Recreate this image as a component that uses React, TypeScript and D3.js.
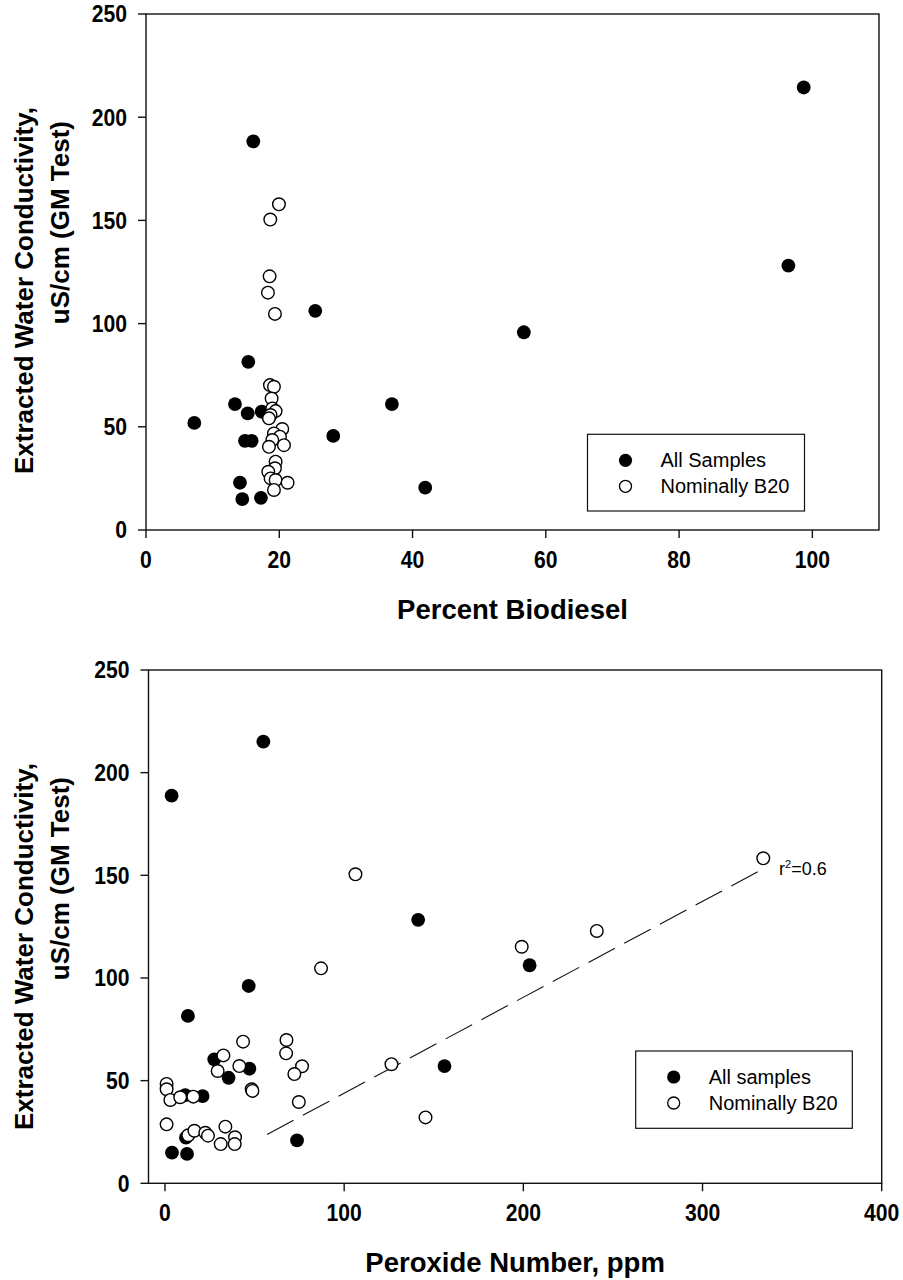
import React from "react";
import * as d3 from "d3";

// ---- Conductivity vs. percent biodiesel ----
const bioAllSamples: [number, number][] = [
  [7.25, 51.9], [13.35, 61], [14.1, 22.9], [14.45, 15], [14.85, 43.2],
  [15.26, 56.5], [15.35, 81.5], [15.86, 43.2], [16.1, 188.3], [17.25, 15.6],
  [17.36, 57.3], [25.4, 106.2], [28.1, 45.6], [36.9, 61], [41.9, 20.5],
  [56.7, 95.8], [96.4, 128.1], [98.7, 214.4],
];
const bioNominalB20: [number, number][] = [
  [19.95, 157.8], [18.65, 150.4], [18.55, 122.9], [18.3, 115], [19.35, 104.7],
  [18.6, 70.2], [19.2, 69.4], [18.85, 63.7], [18.95, 58.9], [19.45, 57.6],
  [18.7, 55.7], [18.45, 54.1], [20.45, 48.9], [19.2, 46.8], [20.1, 45.2],
  [18.95, 43.6], [20.7, 41.1], [18.45, 40.3], [19.45, 33.1], [19.35, 29.9],
  [18.35, 28.2], [18.7, 25], [19.45, 24.2], [21.25, 22.9], [19.2, 19.4],
];

// ---- Conductivity vs. peroxide number ----
const peroxAllSamples: [number, number][] = [
  [3.7, 188.8], [54.9, 215.1], [141.3, 128.3], [203.5, 106.2], [156, 57.1],
  [46.7, 96.1], [12.8, 81.5], [27.5, 60.4], [35.5, 51.4], [47.1, 55.8],
  [11.3, 42.9], [21, 42.5], [11.7, 22.2], [3.9, 14.9], [12.3, 14.3],
  [73.7, 20.9],
];
const peroxNominalB20: [number, number][] = [
  [0.9, 48.4], [0.9, 45.8], [3, 40.6], [8.5, 41.9], [15.8, 42.2],
  [43.6, 69], [32.6, 62.3], [29.4, 54.7], [41.5, 57.1], [48.4, 45.8],
  [48.8, 45], [67.8, 69.8], [67.6, 63.3], [76.5, 57], [72.2, 53.2],
  [74.7, 39.6], [0.9, 28.7], [13, 23.4], [16.4, 25.6], [22.5, 24.6],
  [24, 23.2], [33.7, 27.6], [31.1, 19.1], [39.1, 22.4], [38.9, 19.1],
  [106.3, 150.5], [199.1, 115.2], [241, 122.9], [333.9, 158.3], [126.4, 58],
  [145.4, 32.1], [87.1, 104.7],
];
// linear fit through the B20 samples (r^2 = 0.6)
const peroxFit: [number, number][] = [[57, 23.8], [334, 153.2]];

const yTicks = [0, 50, 100, 150, 200, 250];
const bioTicks = [0, 20, 40, 60, 80, 100];
const peroxTicks = [0, 100, 200, 300, 400];

const FONT = "'Liberation Sans', Arial, Helvetica, sans-serif";
const INK = "#111";

type PanelProps = {
  x0: number; x1: number; y0: number; y1: number;
  xDomain: [number, number]; xTicks: number[];
  filled: [number, number][]; open: [number, number][];
  xTitle: string; legendLabels: [string, string];
  legendBox: [number, number, number, number];
  fit?: [number, number][];
  fitLabelPos?: [number, number];
};

// bold, slightly condensed numerals for tick labels
function TickLabel(props: { x: number; y: number; anchor: string; text: string }) {
  return (
    <text transform={`translate(${props.x},${props.y}) scale(0.92,1)`} textAnchor={props.anchor}
      fontFamily={FONT} fontWeight="bold" fontSize={23}>{props.text}</text>
  );
}

function Panel(p: PanelProps) {
  const x = d3.scaleLinear().domain(p.xDomain).range([p.x0, p.x1]);
  const y = d3.scaleLinear().domain([0, 250]).range([p.y1, p.y0]);
  const line = d3.line<[number, number]>().x((d) => x(d[0])).y((d) => y(d[1]));
  const [lx, ly, lw, lh] = p.legendBox;
  const tickLen = 8;
  const titleEnd = p.y0 + 93;
  return (
    <g>
      <rect x={p.x0} y={p.y0} width={p.x1 - p.x0} height={p.y1 - p.y0}
        fill="none" stroke={INK} strokeWidth={1.4} />
      {yTicks.map((t) => (
        <g key={"y" + t}>
          <line x1={p.x0 - tickLen} x2={p.x0} y1={y(t)} y2={y(t)} stroke={INK} strokeWidth={1.4} />
          <TickLabel x={p.x0 - 19} y={y(t) + 8.3} anchor="end" text={String(t)} />
        </g>
      ))}
      {p.xTicks.map((t) => (
        <g key={"x" + t}>
          <line x1={x(t)} x2={x(t)} y1={p.y1} y2={p.y1 + tickLen} stroke={INK} strokeWidth={1.4} />
          <TickLabel x={x(t)} y={p.y1 + 38} anchor="middle" text={String(t)} />
        </g>
      ))}
      <text x={(p.x0 + p.x1) / 2} y={p.y1 + 89} textAnchor="middle" fontFamily={FONT}
        fontWeight="bold" fontSize={27.5}>{p.xTitle}</text>
      <g transform={`translate(33,${titleEnd}) rotate(-90)`}>
        <text textAnchor="end" fontFamily={FONT} fontWeight="bold" fontSize={26}>
          Extracted Water Conductivity,
        </text>
      </g>
      <g transform={`translate(69,${titleEnd + 14}) rotate(-90)`}>
        <text textAnchor="end" fontFamily={FONT} fontWeight="bold" fontSize={26}>
          uS/cm (GM Test)
        </text>
      </g>
      {p.fit && (
        <path d={line(p.fit) || ""} fill="none" stroke={INK} strokeWidth={1.1}
          strokeDasharray="30 10.5" />
      )}
      {p.fitLabelPos && (
        <text x={p.fitLabelPos[0]} y={p.fitLabelPos[1]} fontFamily={FONT} fontSize={18}>
          r<tspan dy={-7} fontSize={11}>2</tspan><tspan dy={7}>=0.6</tspan>
        </text>
      )}
      {p.filled.map((d, i) => (
        <circle key={"f" + i} cx={x(d[0])} cy={y(d[1])} r={6.9} fill="#000" />
      ))}
      {p.open.map((d, i) => (
        <circle key={"o" + i} cx={x(d[0])} cy={y(d[1])} r={6.3} fill="#fff"
          stroke="#000" strokeWidth={1.4} />
      ))}
      <rect x={lx} y={ly} width={lw} height={lh} fill="#fff" stroke={INK} strokeWidth={1.2} />
      <circle cx={lx + 38} cy={ly + 26} r={6.6} fill="#000" />
      <circle cx={lx + 38} cy={ly + 52} r={6} fill="#fff" stroke="#000" strokeWidth={1.3} />
      <text x={lx + 73} y={ly + 33} fontFamily={FONT} fontSize={20}>{p.legendLabels[0]}</text>
      <text x={lx + 73} y={ly + 59} fontFamily={FONT} fontSize={20}>{p.legendLabels[1]}</text>
    </g>
  );
}

export default function App() {
  return (
    <svg width={903} height={1280} viewBox="0 0 903 1280"
      style={{ position: "absolute", left: 0, top: 0, background: "#fff" }}>
      <rect width={903} height={1280} fill="#fff" />
      <Panel x0={146} x1={879} y0={14} y1={530} xDomain={[0, 110]} xTicks={bioTicks}
        filled={bioAllSamples} open={bioNominalB20} xTitle="Percent Biodiesel"
        legendLabels={["All Samples", "Nominally B20"]} legendBox={[587.5, 434.3, 217, 76.7]} />
      <Panel x0={148.5} x1={881.7} y0={670} y1={1183.3} xDomain={[-9.2, 400]} xTicks={peroxTicks}
        filled={peroxAllSamples} open={peroxNominalB20} xTitle="Peroxide Number, ppm"
        legendLabels={["All samples", "Nominally B20"]} legendBox={[635.7, 1051, 216.6, 77.3]}
        fit={peroxFit} fitLabelPos={[779, 875]} />
    </svg>
  );
}
